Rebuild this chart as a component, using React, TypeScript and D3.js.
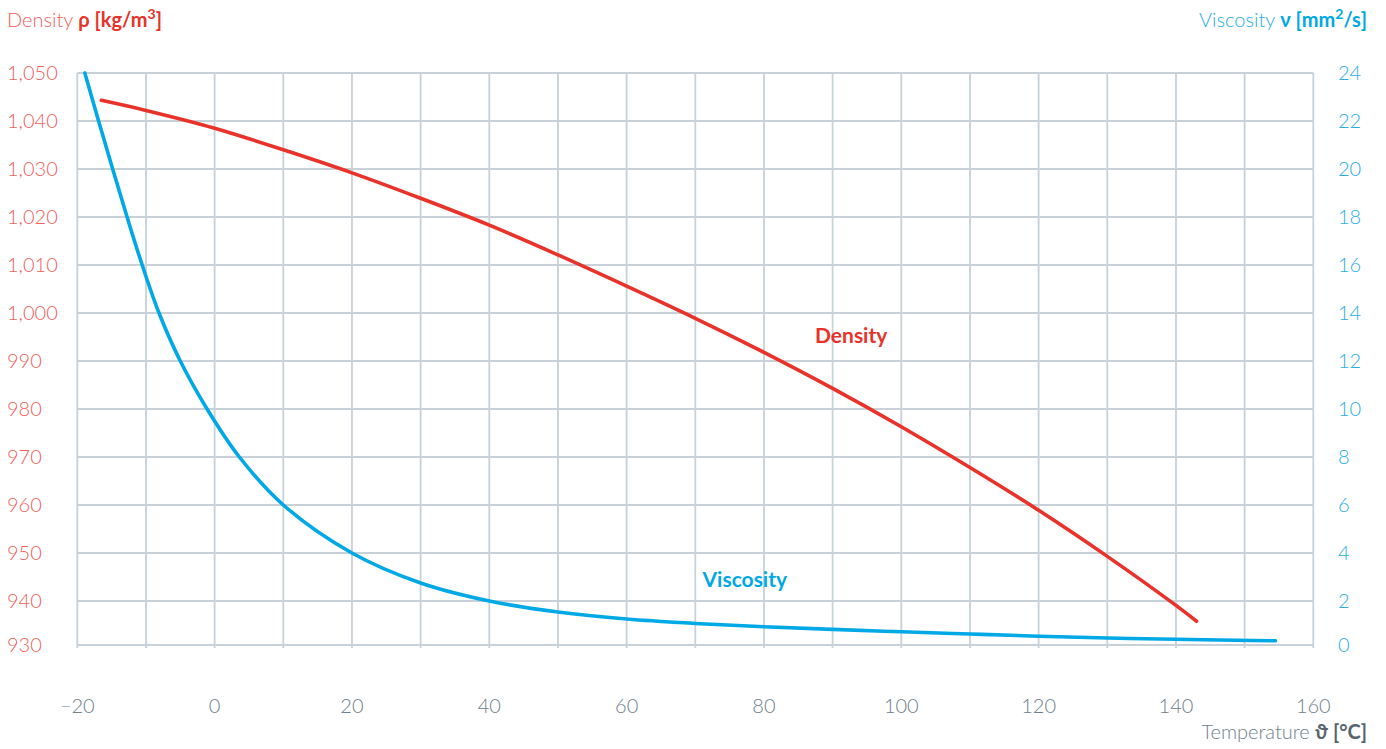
import React from "react";
import * as d3 from "d3";

const W = 1386;
const H = 749;

// Temperature axis ticks (°C)
const tempTicks = [-20, 0, 20, 40, 60, 80, 100, 120, 140, 160];
const tempGrid = [-20, -10, 0, 10, 20, 30, 40, 50, 60, 70, 80, 90, 100, 110, 120, 130, 140, 150, 160];

// Density axis ticks (kg/m³)
const densityTicks = [930, 940, 950, 960, 970, 980, 990, 1000, 1010, 1020, 1030, 1040, 1050];
// Viscosity axis ticks (mm²/s)
const viscosityTicks = [0, 2, 4, 6, 8, 10, 12, 14, 16, 18, 20, 22, 24];

// Density series
const densityTemp = [-16.5, -10, 0, 10, 20, 30, 40, 50, 60, 70, 80, 90, 100, 110, 120, 130, 140, 143];
const densityValue = [1044.3, 1042.2, 1038.5, 1034.0, 1029.2, 1023.9, 1018.3, 1012.1, 1005.6, 998.9, 991.8, 984.3, 976.3, 967.8, 958.9, 949.3, 939.0, 935.4];

// Viscosity series
const viscosityTemp = [-18.9, -16.9, -14.85, -12.75, -10.55, -8.1, -5.0, -1.1, 3.6, 10, 20, 30, 40, 50, 60, 70, 80, 90, 100, 110, 120, 130, 140, 154.5];
const viscosityValue = [24, 22, 20, 18, 16, 14, 12, 10, 8, 6, 4, 2.75, 2.0, 1.5, 1.18, 0.98, 0.83, 0.71, 0.6, 0.5, 0.4, 0.32, 0.26, 0.19];

const RED_LINE = "#e8322a";
const RED_TEXT = "#f0625c";
const BLUE_LINE = "#00a8e6";
const BLUE_TEXT = "#2aaee4";
const GRID = "#c8d1d8";
const GRAY_TEXT = "#6f808a";
const GRAY_BOLD = "#56656f";
const FONT = "Lato, 'Open Sans', sans-serif";

export default function App() {
  const x = d3.scaleLinear().domain([-20, 160]).range([77.3, 1313.3]);
  // piecewise scale: the bottom band of the original is slightly shorter
  const yD = d3.scaleLinear().domain([930, 940, 1050]).range([645, 601, 73]);
  const yV = d3.scaleLinear().domain([0, 2, 24]).range([645, 601, 73]);

  const densityPts: [number, number][] = densityTemp.map((t, i) => [t, densityValue[i]]);
  const viscPts: [number, number][] = viscosityTemp.map((t, i) => [t, viscosityValue[i]]);

  const densityLine = d3
    .line<[number, number]>()
    .x((d) => x(d[0]))
    .y((d) => yD(d[1]))
    .curve(d3.curveCatmullRom.alpha(0.5));
  const viscLine = d3
    .line<[number, number]>()
    .x((d) => x(d[0]))
    .y((d) => yV(d[1]))
    .curve(d3.curveCatmullRom.alpha(0.5));

  const top = yD(1050);
  const bottom = yD(930);
  const left = x(-20);
  const right = x(160);

  return (
    <svg
      width={W}
      height={H}
      style={{ position: "absolute", left: 0, top: 0, background: "#fff" }}
      fontFamily={FONT}
    >
      {/* grid */}
      <g stroke={GRID} strokeWidth={1.8} fill="none">
        {tempGrid.map((t) => (
          <line key={"v" + t} x1={x(t)} x2={x(t)} y1={top} y2={bottom + 3} />
        ))}
        {densityTicks.map((v) => (
          <line key={"h" + v} x1={left} x2={right} y1={yD(v)} y2={yD(v)} />
        ))}
      </g>

      {/* left ticks */}
      <g fill={RED_TEXT} fontSize={20} fontWeight={300}>
        {densityTicks.map((v) => (
          <text key={v} x={7} y={yD(v)} dy="0.36em">
            {d3.format(",")(v)}
          </text>
        ))}
      </g>
      {/* right ticks */}
      <g fill={BLUE_TEXT} fontSize={20} fontWeight={300}>
        {viscosityTicks.map((v) => (
          <text key={v} x={1338} y={yV(v)} dy="0.36em">
            {v}
          </text>
        ))}
      </g>
      {/* bottom ticks */}
      <g fill={GRAY_TEXT} fontSize={20} fontWeight={300} textAnchor="middle">
        {tempTicks.map((t) => (
          <text key={t} x={x(t)} y={713}>
            {t < 0 ? "\u2212" + Math.abs(t) : t}
          </text>
        ))}
      </g>

      {/* series */}
      <path d={viscLine(viscPts) || ""} fill="none" stroke={BLUE_LINE} strokeWidth={3.6} strokeLinecap="round" />
      <path d={densityLine(densityPts) || ""} fill="none" stroke={RED_LINE} strokeWidth={3.6} strokeLinecap="round" />

      {/* in-chart labels */}
      <text x={815} y={342.5} fill={RED_LINE} fontSize={21} fontWeight={700}>
        Density
      </text>
      <text x={702.5} y={586.5} fill={BLUE_LINE} fontSize={21} fontWeight={700}>
        Viscosity
      </text>

      {/* axis titles */}
      <text x={7} y={27} fontSize={20} fill={RED_TEXT}>
        <tspan fontWeight={300}>Density </tspan>
        <tspan fontWeight={700} fill={RED_LINE}>
          ρ [kg/m
          <tspan fontSize={14} dy={-8}>3</tspan>
          <tspan dy={8}>]</tspan>
        </tspan>
      </text>
      <text x={1367} y={27} fontSize={20} fill={BLUE_TEXT} textAnchor="end">
        <tspan fontWeight={300}>Viscosity </tspan>
        <tspan fontWeight={700} fill={BLUE_LINE}>
          ν [mm
          <tspan fontSize={14} dy={-8}>2</tspan>
          <tspan dy={8}>/s]</tspan>
        </tspan>
      </text>
      <text x={1367} y={739} fontSize={20} fill={GRAY_TEXT} textAnchor="end">
        <tspan fontWeight={300}>Temperature </tspan>
        <tspan fontWeight={700} fill={GRAY_BOLD}>ϑ [°C]</tspan>
      </text>
    </svg>
  );
}
